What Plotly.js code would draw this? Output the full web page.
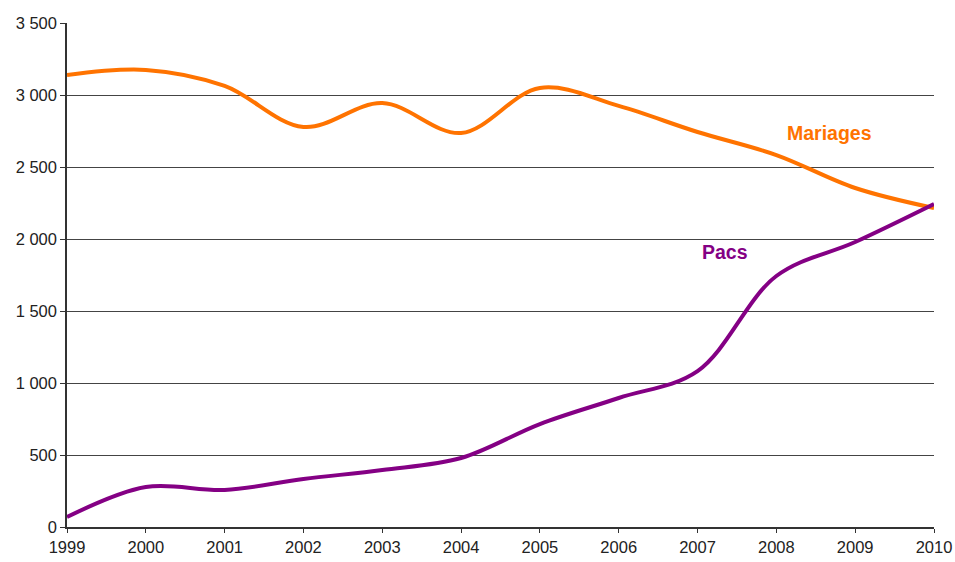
<!DOCTYPE html>
<html><head><meta charset="utf-8">
<script src="https://cdn.plot.ly/plotly-3.0.1.min.js"></script>
<style>body{margin:0;background:#fff}#c{width:955px;height:562px}</style>
</head><body><div id="c"></div>
<script>
const years = [1999,2000,2001,2002,2003,2004,2005,2006,2007,2008,2009,2010];
const mariages = [3139,3174,3063,2778,2944,2736,3049,2924,2743,2583,2354,2215];
const pacs = [69,278,257,333,396,479,715,896,1083,1743,1979,2243];
const yTickVals = [0,500,1000,1500,2000,2500,3000,3500];
const yTickText = ["0","500","1 000","1 500","2 000","2 500","3 000","3 500"];
const font = "Liberation Sans, Arial, sans-serif";
const traces = [
  {x: years, y: mariages, mode: 'lines', name: 'Mariages', line: {color: '#ff7300', width: 4, shape: 'spline', smoothing: 1}},
  {x: years, y: pacs, mode: 'lines', name: 'Pacs', line: {color: '#840084', width: 4, shape: 'spline', smoothing: 1}}
];
const layout = {
  width: 955, height: 562,
  margin: {l: 67, r: 21, t: 23, b: 35},
  paper_bgcolor: '#fff', plot_bgcolor: '#fff',
  showlegend: false,
  font: {family: font, size: 16, color: '#222'},
  xaxis: {range: [1999, 2010], tickvals: years, ticktext: years.map(String), showgrid: false, zeroline: false,
    showline: true, linecolor: '#333', linewidth: 1.5, ticks: 'outside', ticklen: 4, tickcolor: '#333', tickfont: {size: 16.5, color: '#222'}},
  yaxis: {range: [0, 3500], tickvals: yTickVals, ticktext: yTickText, showgrid: true, gridcolor: '#444', gridwidth: 1.3,
    zeroline: false, showline: true, linecolor: '#333', linewidth: 1.5, ticks: 'outside', ticklen: 5, tickcolor: '#333', tickfont: {size: 16.5, color: '#222'}},
  annotations: [
    {x: 2008.68, y: 2736, xref: 'x', yref: 'y', text: '<b>Mariages</b>', showarrow: false, font: {family: font, size: 19.5, color: '#ff7300'}},
    {x: 2007.35, y: 1910, xref: 'x', yref: 'y', text: '<b>Pacs</b>', showarrow: false, font: {family: font, size: 19.5, color: '#840084'}}
  ]
};
Plotly.newPlot('c', traces, layout, {displayModeBar: false});
</script></body></html>
